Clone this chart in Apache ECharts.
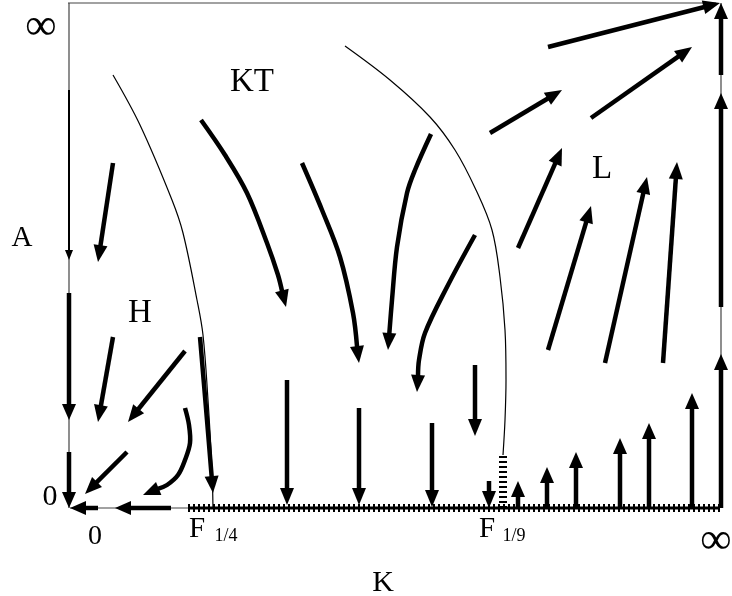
<!DOCTYPE html>
<html><head><meta charset="utf-8">
<script src="https://cdn.jsdelivr.net/npm/echarts@6/dist/echarts.min.js"></script>
<style>html,body{margin:0;padding:0;background:#fff}#c{width:732px;height:596px}</style>
</head><body><div id="c"></div>
<script>
// Coordinates: K along x (0..660), A along y (0..505)
const separatrixF4 = [[45,433],[72,383],[104,308],[115,275],[129,208],[135,173],[140,108],[144,38],[145,0]];
const separatrixF9 = [[277,462],[322,428],[362,391],[387,358],[408,318],[424,278],[432,231],[437,178],[438,128],[437,88],[435,53]];
const hatched = [[[120,0],[652,0]],[[435,0],[435,53]]];
const frameLines = [[[0,505],[648,505]],[[1,505],[1,0]],[[2,0],[120,0]],[[653,0],[653,505]]];
const axisLeftSmall = [[[1,418],[1,248]]];
const axisArrows = [
  [[1,215],[1,88]], [[1,56],[1,0]],
  [[103,0],[47,0]], [[30,0],[2,0]],
  [[653,0],[653,154]], [[653,201],[653,415]], [[653,433],[653,505]]
];
const flowH = [
  [[45,345],[30,246]],
  [[45,171],[30,86]],
  [[117,157],[60,86]],
  [[59,56],[17,14]],
  [[117,100],[121,83],[122,65],[117,48],[110,33],[99,23],[75,13]],
  [[132,171],[139,88],[145,15]]
];
const flowKT = [
  [[133,388],[157,353],[179,315],[199,265],[210,233],[218,201]],
  [[234,345],[254,298],[272,251],[285,195],[291,145]],
  [[363,374],[347,338],[339,315],[329,261],[324,208],[320,158]],
  [[407,273],[379,221],[357,175],[351,148],[349,116]]
];
const flowDown = [
  [[219,128],[219,3]], [[291,100],[291,3]], [[364,85],[364,1]], [[407,143],[407,72]], [[421,27],[421,0]]
];
const flowUp = [
  [[450,0],[450,27]], [[479,0],[479,41]], [[508,0],[508,56]], [[552,0],[552,70]], [[581,0],[581,85]], [[624,0],[624,115]]
];
const flowL = [
  [[480,461],[652,505]], [[523,390],[624,461]], [[422,375],[494,418]],
  [[450,260],[494,360]], [[480,158],[523,302]], [[537,145],[579,331]], [[595,145],[609,346]]
];

function series(list, opt) {
  return {
    type: 'custom', coordinateSystem: 'cartesian2d', silent: true, clip: false,
    data: list.map((p, i) => [p[0][0], p[0][1], i]),
    encode: {x: 0, y: 1},
    renderItem(params, api) {
      const pts = list[api.value(2)].map(p => api.coord(p));
      const sm = pts.length > 2 ? 0.35 : 0;
      const children = [];
      if (opt.hl) {
        const tip = pts[pts.length - 1], prev = pts[pts.length - 2];
        let dx = tip[0] - prev[0], dy = tip[1] - prev[1];
        const d = Math.hypot(dx, dy); dx /= d; dy /= d;
        const bx = tip[0] - dx * opt.hl, by = tip[1] - dy * opt.hl;
        const shaft = pts.slice(0, -1).concat([[bx + dx, by + dy]]);
        children.push({type: 'polyline', shape: {points: shaft, smooth: sm}, style: {stroke: opt.color || '#000', lineWidth: opt.w, fill: null, lineJoin: 'round'}});
        children.push({type: 'polygon', shape: {points: [tip, [bx - dy * opt.hw / 2, by + dx * opt.hw / 2], [bx + dy * opt.hw / 2, by - dx * opt.hw / 2]]}, style: {fill: '#000'}});
      } else {
        children.push({type: 'polyline', shape: {points: pts, smooth: sm}, style: {stroke: opt.color || '#000', lineWidth: opt.w, fill: null, lineDash: opt.dash || null, lineCap: 'butt'}});
      }
      return {type: 'group', children};
    }
  };
}

const chart = echarts.init(document.getElementById('c'), null, {renderer: 'canvas'});
const serif = 'Liberation Serif, Times New Roman, serif';
function txt(t, x, y, size) {
  return {type: 'text', x, y, style: {text: t, fill: '#000', fontSize: size, fontFamily: serif, textAlign: 'center', textVerticalAlign: 'middle'}};
}
chart.setOption({
  animation: false,
  grid: {left: 68, top: 3, width: 660, height: 505},
  xAxis: {type: 'value', min: 0, max: 660, show: false},
  yAxis: {type: 'value', min: 0, max: 505, show: false},
  series: [
    series(frameLines, {w: 1.2, color: '#444'}),
    series([separatrixF4, separatrixF9], {w: 1.2}),
    series(hatched.slice(0, 1), {w: 3}),
    series(hatched, {w: 8, dash: [2, 3]}),
    series(axisLeftSmall, {w: 2, hl: 10, hw: 8}),
    series(axisArrows, {w: 4.5, hl: 16, hw: 14}),
    series(flowH, {w: 4.5, hl: 17, hw: 14}),
    series(flowKT, {w: 4.5, hl: 17, hw: 14}),
    series(flowDown, {w: 4.5, hl: 17, hw: 14}),
    series(flowUp, {w: 4.5, hl: 16, hw: 14}),
    series(flowL, {w: 4.5, hl: 17, hw: 14})
  ],
  graphic: [
    txt('∞', 41, 27, 44),
    txt('A', 22, 238, 29),
    txt('0', 50, 497, 30),
    txt('0', 95, 537, 28),
    txt('F', 197, 529, 29),
    txt('1/4', 226, 536, 18),
    txt('F', 487, 529, 29),
    txt('1/9', 514, 536, 18),
    txt('∞', 716, 541, 44),
    txt('K', 383, 583, 30),
    txt('KT', 252, 82, 33),
    txt('H', 140, 313, 33),
    txt('L', 602, 169, 33)
  ]
});
</script></body></html>
